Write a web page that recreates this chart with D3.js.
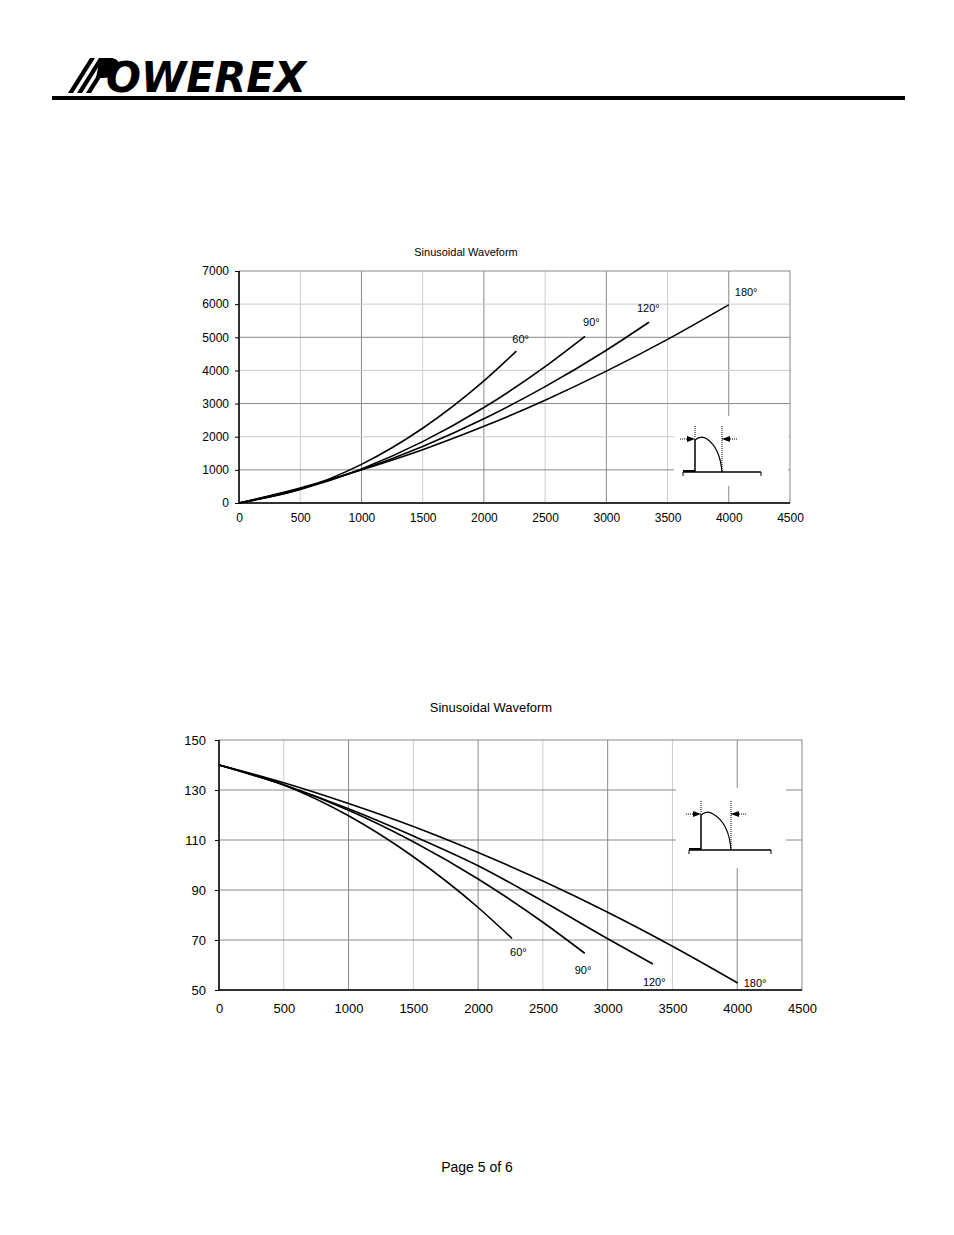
<!DOCTYPE html>
<html><head><meta charset="utf-8">
<script src="https://cdn.jsdelivr.net/npm/d3@7"></script>
<style>body{margin:0;background:#fff}text{font-family:Arial,"Liberation Sans",sans-serif}</style>
</head><body><svg id="s" width="954" height="1235"></svg>
<script>
// ---- data ----
const xTicks = [0,500,1000,1500,2000,2500,3000,3500,4000,4500];
const yTicks1 = [0,1000,2000,3000,4000,5000,6000,7000];
const yTicks2 = [50,70,90,110,130,150];
const seriesNames = ["60°","90°","120°","180°"];
// chart 1: power dissipation vs current
const p60  = [[0,0],[500,413],[1000,1165],[1500,2255],[2000,3684],[2265,4580]];
const p90  = [[0,0],[500,411],[1000,1028],[1500,1851],[2000,2880],[2500,4115],[2826,5030]];
const p120 = [[0,0],[500,436],[1000,1005],[1500,1707],[2000,2542],[2500,3510],[3000,4610],[3348,5455]];
const p180 = [[0,0],[500,451],[1000,1000],[1500,1608],[2000,2313],[2500,3103],[3000,3978],[3500,4937],[4000,5980]];
// chart 2: case temperature vs current
const t60  = [[0,140],[500,132],[1000,119.7],[1500,103.3],[2000,83],[2262,70.6]];
const t90  = [[0,140],[500,132.1],[1000,121.9],[1500,109.3],[2000,94.4],[2500,77.1],[2823,64.7]];
const t120 = [[0,140],[500,132],[1000,122.5],[1500,111.6],[2000,99.7],[2500,85.5],[3000,70.5],[3349,60.4]];
const t180 = [[0,140],[500,132.9],[1000,124.6],[1500,115.4],[2000,105],[2500,93.6],[3000,81.1],[3500,67.5],[4004,52.8]];

const svg = d3.select("#s");
// header logo
const lg = svg.append("g");
[0,1,2].forEach(i=>{
  const x0 = 68+i*9;
  lg.append("path").attr("d",`M${x0},93 L${x0+22},58 L${x0+27},58 L${x0+5},93Z`).attr("fill","#000");
});
lg.append("path").attr("d","M100,58 L112,58 Q122,60 118,70 Q114,78 104,78 L96,78Z").attr("fill","#000");
lg.append("text").attr("x",106).attr("y",92).attr("font-size",42).attr("font-weight",900)
  .attr("font-style","italic").attr("textLength",200).attr("lengthAdjust","spacingAndGlyphs")
  .style("font-family","'DejaVu Sans',Arial").text("OWEREX");
svg.append("rect").attr("x",52).attr("y",96).attr("width",853).attr("height",4).attr("fill","#000");
svg.append("text").attr("x",477).attr("y",1172).attr("text-anchor","middle").attr("font-size",14).text("Page 5 of 6");

function chart(o){
  const x = d3.scaleLinear().domain([0,4500]).range([o.l,o.r]);
  const y = d3.scaleLinear().domain(o.yd).range([o.b,o.t]);
  const g = svg.append("g");
  g.append("text").attr("x",o.tx).attr("y",o.ty).attr("text-anchor","middle").attr("font-size",o.tf).text("Sinusoidal Waveform");
  g.append("g").selectAll("line").data(xTicks.slice(1,-1)).join("line")
    .attr("x1",d=>x(d)).attr("x2",d=>x(d)).attr("y1",o.t).attr("y2",o.b)
    .attr("stroke",(d,i)=>i%2? "#888":"#ccc").attr("stroke-width",1);
  g.append("g").selectAll("line").data(o.yt.slice(1,-1)).join("line")
    .attr("x1",o.l).attr("x2",o.r).attr("y1",d=>y(d)).attr("y2",d=>y(d))
    .attr("stroke",(d,i)=>o.altY ? (i%2? "#ccc":"#888") : "#888").attr("stroke-width",1);
  g.append("rect").attr("x",o.l).attr("y",o.t).attr("width",o.r-o.l).attr("height",o.b-o.t)
    .attr("fill","none").attr("stroke","#888");
  g.append("line").attr("x1",o.l).attr("x2",o.l).attr("y1",o.t).attr("y2",o.b).attr("stroke","#000").attr("stroke-width",1.5);
  g.append("line").attr("x1",o.l).attr("x2",o.r).attr("y1",o.b).attr("y2",o.b).attr("stroke","#000").attr("stroke-width",1.5);
  const ax = g.append("g").attr("transform",`translate(0,${o.b})`)
    .call(d3.axisBottom(x).tickValues(xTicks).tickSize(0).tickPadding(o.xp).tickFormat(d3.format("d")));
  ax.select(".domain").remove(); ax.selectAll("text").attr("font-size",o.f).style("font-family","Arial");
  const ay = g.append("g").attr("transform",`translate(${o.l},0)`)
    .call(d3.axisLeft(y).tickValues(o.yt).tickSize(4).tickPadding(o.yp).tickFormat(d3.format("d")));
  ay.select(".domain").remove(); ay.selectAll("text").attr("font-size",o.f).style("font-family","Arial");
  const ib = o.inset;
  g.append("rect").attr("x",ib.x0).attr("y",ib.y0).attr("width",ib.w).attr("height",ib.h).attr("fill","#fff");
  const line = d3.line().x(d=>x(d[0])).y(d=>y(d[1])).curve(d3.curveMonotoneX);
  o.series.forEach((s,i)=>{
    g.append("path").attr("d",line(s)).attr("fill","none").attr("stroke","#000").attr("stroke-width",1.6);
    const e = s[s.length-1];
    g.append("text").attr("x",x(e[0])+o.lab[i][0]).attr("y",y(e[1])+o.lab[i][1]).attr("font-size",11).text(seriesNames[i]);
  });
  const w = o.wave; const by=w.by, a=w.a, c=w.c, top=w.top;
  g.append("line").attr("x1",w.l).attr("x2",w.r).attr("y1",by).attr("y2",by).attr("stroke","#000").attr("stroke-width",1.5);
  [w.l,w.r].forEach(v=>g.append("line").attr("x1",v).attr("x2",v).attr("y1",by).attr("y2",by+4).attr("stroke","#000"));
  g.append("line").attr("x1",w.l).attr("x2",a).attr("y1",by-1).attr("y2",by-1).attr("stroke","#000").attr("stroke-width",2);
  g.append("line").attr("x1",a).attr("x2",a).attr("y1",by).attr("y2",top+2).attr("stroke","#000").attr("stroke-width",1.5);
  g.append("path").attr("d",`M${a},${top+2} Q${a+6},${top-3} ${a+12},${top+1} Q${c-2},${top+10} ${c},${by}`)
    .attr("fill","none").attr("stroke","#000").attr("stroke-width",1.2);
  g.append("line").attr("x1",c).attr("x2",c).attr("y1",top-12).attr("y2",by).attr("stroke","#000").attr("stroke-dasharray","1,1");
  g.append("line").attr("x1",a).attr("x2",a).attr("y1",top-12).attr("y2",top).attr("stroke","#000").attr("stroke-dasharray","1,1");
  const ay2 = top+1;
  g.append("line").attr("x1",a-15).attr("x2",a).attr("y1",ay2).attr("y2",ay2).attr("stroke","#000").attr("stroke-dasharray","1,1");
  g.append("line").attr("x1",c).attr("x2",c+15).attr("y1",ay2).attr("y2",ay2).attr("stroke","#000").attr("stroke-dasharray","1,1");
  g.append("path").attr("d",`M${a},${ay2} l-8,-3 l0,6Z`).attr("fill","#000");
  g.append("path").attr("d",`M${c},${ay2} l8,-3 l0,6Z`).attr("fill","#000");
}
chart({l:239,r:790,t:271,b:503,yd:[0,7000],yt:yTicks1,tx:466,ty:256,tf:11,f:12,xp:10,yp:6,altY:true,
  series:[p60,p90,p120,p180],lab:[[-4,-8],[-2,-10],[-12,-10],[6,-9]],
  inset:{x0:674,y0:416,w:114,h:70},wave:{l:683,r:761,by:472,a:695,c:722,top:438}});
chart({l:219,r:802,t:740,b:990,yd:[50,150],yt:yTicks2,tx:491,ty:712,tf:13,f:13,xp:14,yp:9,altY:false,
  series:[t60,t90,t120,t180],lab:[[-2,17],[-10,21],[-10,22],[6,4]],
  inset:{x0:676,y0:788,w:110,h:80},wave:{l:689,r:771,by:850,a:701,c:731,top:813}});
</script></body></html>
